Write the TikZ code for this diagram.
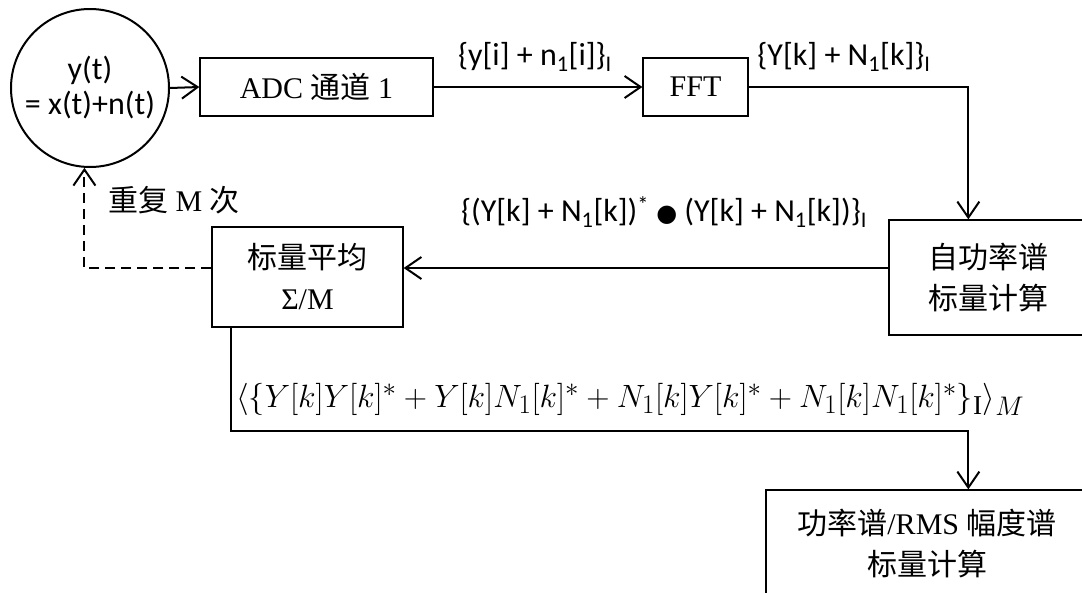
\documentclass[tikz,border=0pt]{standalone}
\usepackage{fontspec}
\usepackage{graphicx}
\setmainfont{Liberation Serif}
\newfontfamily\cjk{Noto Sans CJK SC}
\newfontfamily\calfont{Carlito}
\newfontfamily\dejavu{DejaVu Sans}
\usetikzlibrary{arrows.meta,calc}

\begin{document}
\begin{tikzpicture}[x=1pt,y=-1pt,
  font=\fontsize{30}{41}\selectfont,
  box/.style={draw,line width=1.3pt,inner sep=0pt,align=center},
  wire/.style={line width=2pt},
  arr/.style={wire,-{Straight Barb[length=16pt,width=22pt]}},
  lab/.style={inner sep=0pt,font=\calfont\fontsize{32}{38}\selectfont},
  ]
\useasboundingbox (0,0) rectangle (1082,592);
\clip (0,0) rectangle (1082,592);

% signal source
\node[draw,circle,line width=2pt,minimum size=158pt,inner sep=0pt,align=center,
      font=\calfont\fontsize{32}{35}\selectfont] (src) at (90,88) {y(t)\\= x(t)+n(t)};

% processing blocks
\node[box,minimum width=233pt,minimum height=58pt] (adc) at (316.5,87) {ADC {\cjk 通道} 1};
\node[box,minimum width=105pt,minimum height=58pt] (fft) at (695.5,87) {FFT};
\node[box,minimum width=198pt,minimum height=115pt] (aps) at (988,277.5) {{\cjk 自功率谱}\\{\cjk 标量计算}};
\node[box,minimum width=191pt,minimum height=100pt] (avg) at (307.5,277) {{\cjk 标量平均}\\Σ/M};
\node[box,minimum width=322pt,minimum height=108pt] (out) at (927,544) {{\cjk 功率谱}/RMS {\cjk 幅度谱}\\{\cjk 标量计算}};

% helper points on the block edges
\coordinate (c1) at ($(aps.north west)+(80,0)$);
\coordinate (c2) at ($(avg.south west)+(20,0)$);
\coordinate (c3) at ($(out.north west)+(203,0)$);

% connectors
\draw[arr] (src.east) -- (adc.west);
\draw[arr] (adc.east) -- (fft.west);
\draw[arr] (fft.east) -| (c1);
\draw[arr] ([yshift=9.5pt]aps.west) -- ([yshift=9pt]avg.east);
\draw[arr,dash pattern=on 10pt off 6pt] ([yshift=9pt]avg.west) -| (src.266);
\draw[arr] (c2) -- ++(0,103) -| (c3);

% signal labels
\node[lab] (l1) at (535,57) {\{y[i] + n\textsubscript{1}[i]\}\textsubscript{I}};
\node[lab] (l2) at (844,57) {\{Y[k] + N\textsubscript{1}[k]\}\textsubscript{I}};
\node[lab] (l3) at (664,212) {\{(Y[k] + N\textsubscript{1}[k])\textsuperscript{*} {\dejavu\fontsize{24}{24}\selectfont ●} (Y[k] + N\textsubscript{1}[k])\}\textsubscript{I}};
\node[anchor=west,inner sep=0pt] (l4) at (108,200) {{\cjk 重复} M {\cjk 次}};
\node[anchor=south west,inner sep=0pt] (l5) at (236,416)
  {\resizebox{788pt}{!}{$\langle\{Y[k]Y[k]^* + Y[k]N_1[k]^* + N_1[k]Y[k]^* + N_1[k]N_1[k]^*\}_{\mathrm{I}}\rangle_M$}};
\end{tikzpicture}
\end{document}
